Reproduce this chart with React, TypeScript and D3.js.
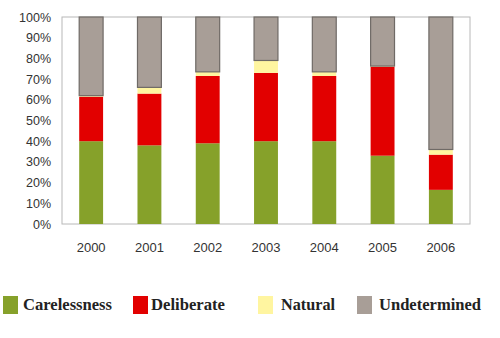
import React from "react";
import * as d3 from "d3";

const years = ["2000", "2001", "2002", "2003", "2004", "2005", "2006"];
const carelessness = [40, 38, 39, 40, 40, 33, 16.5];
const deliberate = [21.5, 25, 32.5, 33, 31.5, 43, 17];
const natural = [0.5, 3, 2, 6, 2, 0.3, 2.5];
const undetermined = [38, 34, 26.5, 21, 26.5, 23.7, 64];
const seriesNames = ["Carelessness", "Deliberate", "Natural", "Undetermined"];
const yTicks = [0, 10, 20, 30, 40, 50, 60, 70, 80, 90, 100];

const colors = ["#86A12A", "#E20000", "#FFF5A0", "#A89E97"];

export default function App() {
  const W = 500, H = 338;
  const left = 62, right = 470, top = 17, bottom = 224;
  const x = d3.scaleBand().domain(years).range([left, right]).paddingInner(0.59).paddingOuter(0.295);
  const y = d3.scaleLinear().domain([0, 100]).range([bottom, top]);
  const rows = years.map((yr, i) => ({
    year: yr,
    Carelessness: carelessness[i],
    Deliberate: deliberate[i],
    Natural: natural[i],
    Undetermined: undetermined[i],
  }));
  const stack = d3.stack<any>().keys(seriesNames)(rows);
  const legendX = [3, 133, 258, 357];
  const legendTextX = [23, 151, 281, 379];
  const legendTextW = [89, 74, 54, 102];
  return (
    <svg width={W} height={H} style={{ position: "absolute", left: 0, top: 0, background: "#fff" }}>
      <rect x={left} y={top} width={right - left} height={bottom - top} fill="#fff" stroke="#b8b8b8" strokeWidth={1} />
      {stack.map((s, si) =>
        s.map((d, i) => (
          <rect
            key={si + "-" + i}
            x={x(years[i])}
            width={x.bandwidth()}
            y={y(d[1])}
            height={Math.max(0, y(d[0]) - y(d[1]))}
            fill={colors[si]}
            stroke={si === 3 ? "#6f6a66" : "none"}
            strokeWidth={si === 3 ? 1.2 : 0}
          />
        ))
      )}
      {yTicks.map((t) => (
        <text key={t} x={51} y={y(t) + 4.5} textAnchor="end" fontFamily="Liberation Sans, Arial, sans-serif" fontSize={12.5} fill="#333">
          {t}%
        </text>
      ))}
      {years.map((yr) => (
        <text key={yr} x={(x(yr) as number) + x.bandwidth() / 2} y={252} textAnchor="middle" fontFamily="Liberation Sans, Arial, sans-serif" fontSize={13} fill="#333">
          {yr}
        </text>
      ))}
      {seriesNames.map((n, i) => (
        <g key={n}>
          <rect x={legendX[i]} y={296} width={15} height={18} fill={colors[i]} />
          <text x={legendTextX[i]} y={310} textLength={legendTextW[i]} lengthAdjust="spacingAndGlyphs" fontFamily="Liberation Serif, Times New Roman, serif" fontWeight="bold" fontSize={16.5} fill="#222">
            {n}
          </text>
        </g>
      ))}
    </svg>
  );
}
